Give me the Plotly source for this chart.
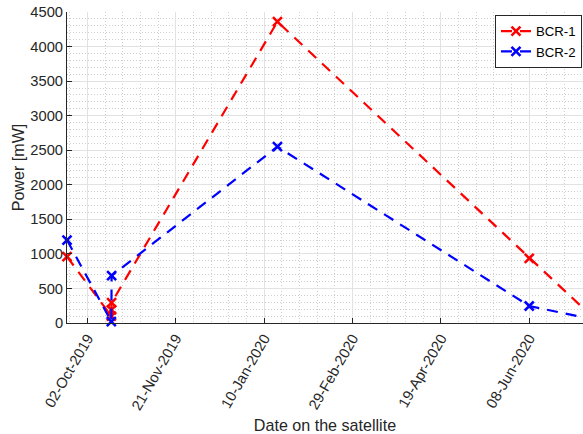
import plotly.graph_objects as go

# Data
dates_bcr1 = ["2019-09-20 10:00", "2019-10-15 12:00", "2019-10-15 14:00", "2019-10-15 16:00",
              "2020-01-17 12:00", "2020-06-08 00:00", "2020-07-15 00:00"]
power_bcr1 = [960, 100, 190, 295, 4360, 936, 60]

dates_bcr2 = ["2019-09-20 10:00", "2019-10-15 12:00", "2019-10-15 16:00",
              "2020-01-17 12:00", "2020-06-08 00:00", "2020-07-15 00:00"]
power_bcr2 = [1200, 20, 685, 2551, 246, 48]

series_names = ["BCR-1", "BCR-2"]
series_colors = ["#FF0000", "#0000FF"]

x_range = ["2019-09-20 10:00", "2020-07-08 10:00"]
y_range = [0, 4500]
DAY_MS = 86400000

FONT = "Liberation Sans, Arial, sans-serif"
TXT = "#262626"

fig = go.Figure()
for name, xs, ys, col in zip(series_names, [dates_bcr1, dates_bcr2],
                             [power_bcr1, power_bcr2], series_colors):
    fig.add_trace(go.Scatter(
        x=xs, y=ys, name=name, mode="lines+markers",
        line=dict(color=col, width=2.2, dash="11px,8px"),
        marker=dict(symbol="x-thin", size=9, color=col,
                    line=dict(color=col, width=2.6)),
        cliponaxis=False,
    ))

fig.update_layout(
    width=583, height=434,
    margin=dict(l=67, r=0, t=12, b=111),
    plot_bgcolor="white", paper_bgcolor="white",
    font=dict(family=FONT, size=14.7, color=TXT),
    showlegend=True,
    legend=dict(x=0.998, xanchor="right", y=0.990, yanchor="top",
                bgcolor="white", bordercolor=TXT, borderwidth=1,
                font=dict(size=13.2, color="#000000"),
                itemwidth=30, tracegroupgap=0),
)

fig.update_xaxes(
    type="date", range=x_range,
    tick0="2019-10-02", dtick=50 * DAY_MS, tickformat="%d-%b-%Y",
    tickangle=-60, ticks="inside", ticklen=5, tickcolor=TXT,
    showline=True, linecolor=TXT, linewidth=1, mirror=False,
    showgrid=True, gridcolor="#e2e2e2", gridwidth=1,
    minor=dict(dtick=10 * DAY_MS, tick0="2019-10-02", showgrid=True,
               gridcolor="#cfcfcf", griddash="1px,2px", gridwidth=1),
    zeroline=False,
    title=dict(text="Date on the satellite", font=dict(size=16.1, color=TXT), standoff=8),
    tickfont=dict(size=14.7, color=TXT),
)
fig.update_yaxes(
    range=y_range, dtick=500, tick0=0,
    ticks="inside", ticklen=5, tickcolor=TXT,
    showline=True, linecolor=TXT, linewidth=1, mirror=False,
    showgrid=True, gridcolor="#e2e2e2", gridwidth=1,
    minor=dict(dtick=100, showgrid=True, gridcolor="#cfcfcf", griddash="1px,2px", gridwidth=1),
    zeroline=False,
    title=dict(text="Power [mW]", font=dict(size=16.1, color=TXT), standoff=1),
    tickfont=dict(size=14.7, color=TXT),
)

fig.write_html("out.html")
